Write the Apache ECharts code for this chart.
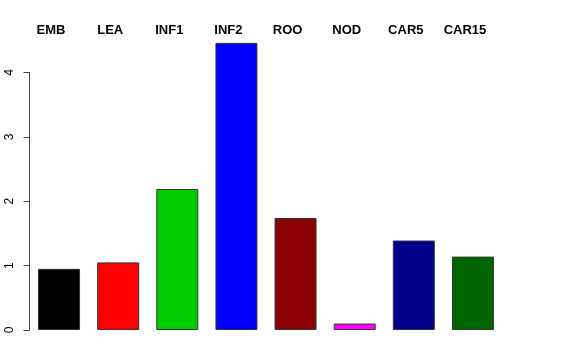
<!DOCTYPE html>
<html>
<head>
<meta charset="utf-8">
<script src="https://cdn.jsdelivr.net/npm/echarts@6/dist/echarts.min.js"></script>
<style>html,body{margin:0;padding:0;background:#fff}#c{width:576px;height:360px}</style>
</head>
<body>
<div id="c"></div>
<script>
var categories = ["EMB", "LEA", "INF1", "INF2", "ROO", "NOD", "CAR5", "CAR15"];
var values = [0.95, 1.05, 2.19, 4.46, 1.74, 0.10, 1.39, 1.14];
var colors = ["#000000", "#FF0000", "#00CD00", "#0000FF", "#8B0000", "#FF00FF", "#00008B", "#006400"];
var yTicks = [0, 1, 2, 3, 4];

var chart = echarts.init(document.getElementById('c'), null, {renderer: 'canvas'});
chart.setOption({
  animation: false,
  backgroundColor: '#ffffff',
  grid: {left: 29.5, right: 73.5, top: 72.5, bottom: 30},
  xAxis: {
    type: 'category',
    position: 'top',
    data: categories,
    axisLine: {show: false},
    axisTick: {show: false},
    axisLabel: {
      interval: 0,
      margin: 36,
      fontFamily: 'Liberation Sans, Arial, sans-serif',
      fontWeight: 'bold',
      fontSize: 13,
      color: '#000',
      padding: [0, 16, 0, 0]
    }
  },
  yAxis: {
    type: 'value',
    min: yTicks[0],
    max: yTicks[yTicks.length - 1],
    interval: 1,
    splitLine: {show: false},
    axisLine: {show: true, lineStyle: {color: '#444', width: 1}},
    axisTick: {show: true, length: 6, lineStyle: {color: '#444'}},
    axisLabel: {
      rotate: 90,
      margin: 14,
      fontFamily: 'Liberation Sans, Arial, sans-serif',
      fontSize: 12,
      color: '#000'
    }
  },
  series: [{
    type: 'bar',
    clip: false,
    barCategoryGap: '29%',
    data: values.map(function (v, i) {
      return {value: v, itemStyle: {color: colors[i]}};
    }),
    itemStyle: {borderColor: '#333', borderWidth: 1}
  }]
});
</script>
</body>
</html>
